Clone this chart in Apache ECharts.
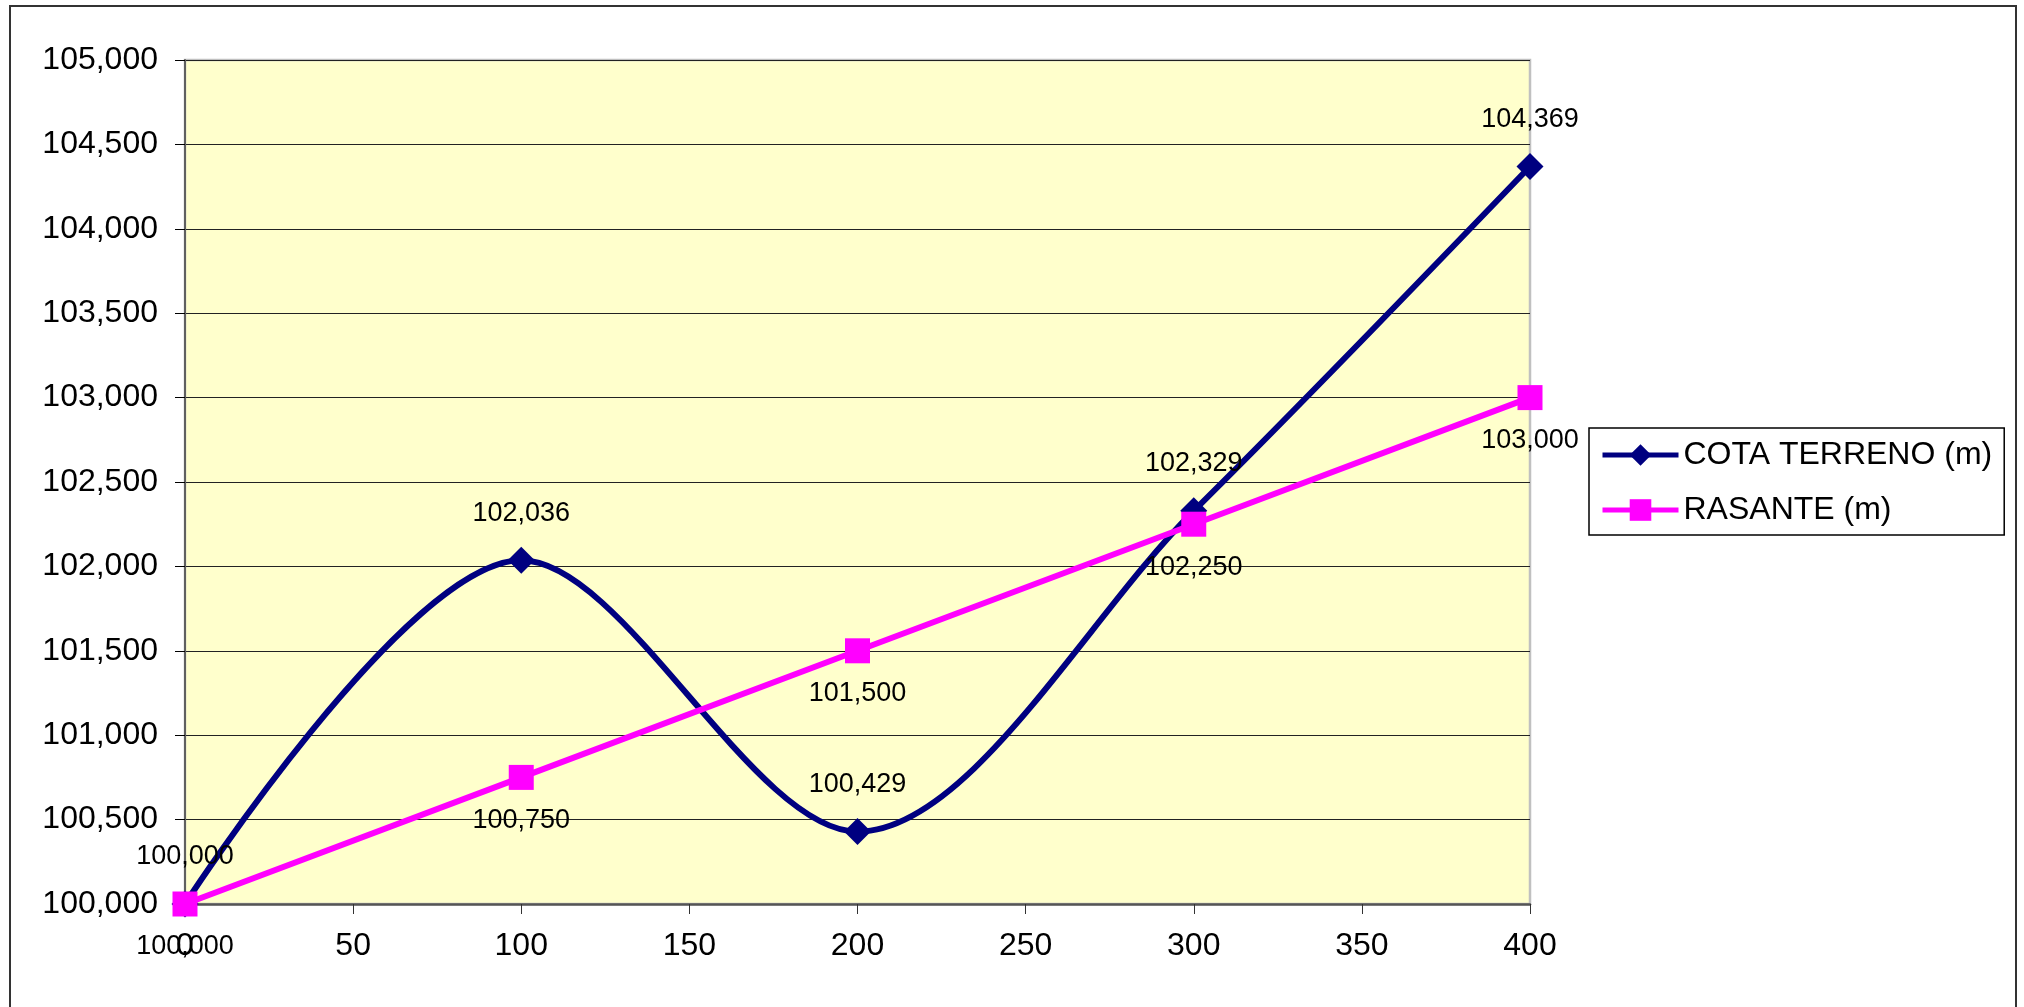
<!DOCTYPE html>
<html>
<head>
<meta charset="utf-8">
<script src="https://cdn.jsdelivr.net/npm/echarts@6/dist/echarts.min.js"></script>
<style>
html,body{margin:0;padding:0;background:#fff;}
#c{width:2024px;height:1007px;}
</style>
</head>
<body>
<div id="c"></div>
<script>
const stations = [0, 100, 200, 300, 400];
const cotaTerreno = [100.000, 102.036, 100.429, 102.329, 104.369];
const rasante = [100.000, 100.750, 101.500, 102.250, 103.000];
const seriesNames = ['COTA TERRENO (m)', 'RASANTE (m)'];
const yMin = 100, yMax = 105, yStep = 0.5;
const xMin = 0, xMax = 400, xStep = 50;

const FONT = 'Liberation Sans, Arial, sans-serif';
const fmt = v => Number(v).toFixed(3).replace('.', ',');

const chart = echarts.init(document.getElementById('c'), null, {renderer: 'canvas'});
chart.setOption({
  animation: false,
  backgroundColor: '#ffffff',
  grid: {
    left: 185, top: 60, width: 1345, height: 844,
    show: true, backgroundColor: '#ffffcc', borderColor: '#c0c0c0', borderWidth: 2.5
  },
  xAxis: {
    type: 'value', min: xMin, max: xMax, interval: xStep,
    axisLine: {show: true, onZero: false, lineStyle: {color: '#555', width: 2.5}},
    axisTick: {show: true, inside: false, length: 10, lineStyle: {color: '#333', width: 1}},
    axisLabel: {color: '#000', fontSize: 32, fontFamily: FONT, margin: 26},
    splitLine: {show: false}
  },
  yAxis: {
    type: 'value', min: yMin, max: yMax, interval: yStep,
    axisLine: {show: true, lineStyle: {color: '#606060', width: 2}},
    axisTick: {show: true, inside: false, length: 10, lineStyle: {color: '#000', width: 1}},
    axisLabel: {color: '#000', fontSize: 32, fontFamily: FONT, margin: 27, formatter: fmt},
    splitLine: {show: true, lineStyle: {color: '#222', width: 1.2}}
  },
  legend: {
    left: 1589, top: 428, orient: 'vertical',
    padding: [11, 12, 9, 11],
    itemGap: 23, itemWidth: 76, itemHeight: 27,
    borderColor: '#000', borderWidth: 1.5, backgroundColor: '#fff',
    lineStyle: {width: 5},
    textStyle: {color: '#000', fontSize: 32, fontFamily: FONT},
    data: seriesNames
  },
  series: [
    {
      name: seriesNames[0], type: 'line', smooth: 0.32,
      data: stations.map((s, i) => [s, cotaTerreno[i]]),
      symbol: 'diamond', symbolSize: 27,
      itemStyle: {color: '#000080'},
      lineStyle: {color: '#000080', width: 6},
      label: {show: true, position: 'inside', offset: [0, -47], color: '#000', fontSize: 27, fontFamily: FONT,
        formatter: p => fmt(p.value[1])}
    },
    {
      name: seriesNames[1], type: 'line',
      data: stations.map((s, i) => [s, rasante[i]]),
      symbol: 'rect', symbolSize: 25,
      itemStyle: {color: '#ff00ff'},
      lineStyle: {color: '#ff00ff', width: 6},
      label: {show: true, position: 'inside', offset: [0, 43], color: '#000', fontSize: 27, fontFamily: FONT,
        formatter: p => fmt(p.value[1])}
    }
  ],
  graphic: [{
    type: 'rect', silent: true, z: 100,
    shape: {x: 10, y: 6, width: 2006, height: 1020},
    style: {fill: null, stroke: '#333', lineWidth: 2}
  }]
});
</script>
</body>
</html>
